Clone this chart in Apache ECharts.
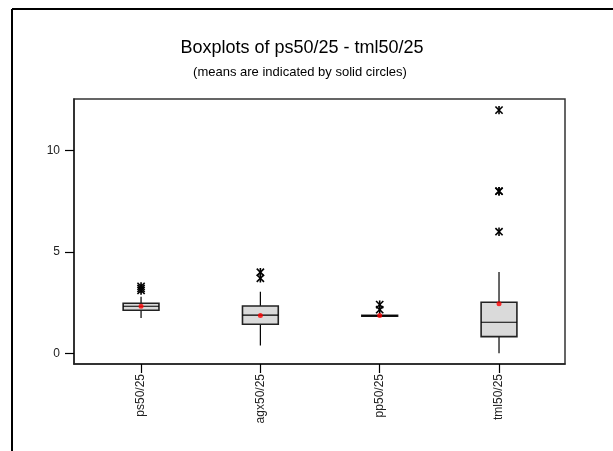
<!DOCTYPE html>
<html><head><meta charset="utf-8">
<script src="https://cdn.jsdelivr.net/npm/echarts@6/dist/echarts.min.js"></script>
<style>html,body{margin:0;padding:0;background:#fff}#c{width:613px;height:451px}</style>
</head><body><div id="c"></div>
<script>
const categories = ['ps50/25', 'agx50/25', 'pp50/25', 'tml50/25'];
const whiskerLow = [1.74, 0.38, 1.85, 0.0];
const q1 = [2.12, 1.43, 1.83, 0.82];
const median = [2.32, 1.88, 1.85, 1.53];
const q3 = [2.47, 2.33, 1.87, 2.52];
const whiskerHigh = [2.79, 3.03, 1.85, 4.01];
const means = [2.32, 1.86, 1.87, 2.45];
const outlierGroups = [[3.1, 3.2, 3.3], [3.7, 4.0], [2.15, 2.4], [6.0, 8.0, 8.0, 12.0]];
const yTicks = [0, 5, 10];

const positions = categories.map((c, i) => i + 1);
const boxData = positions.map((p, i) => [p, whiskerLow[i], q1[i], median[i], q3[i], whiskerHigh[i]]);
const meanData = positions.map((p, i) => [p, means[i]]);
const outlierData = [];
outlierGroups.forEach((g, i) => g.forEach(v => outlierData.push([positions[i], v])));

const BOX_W = 0.30;
const FONT = '"Liberation Sans", Arial, sans-serif';

const chart = echarts.init(document.getElementById('c'), null, {renderer: 'canvas'});
chart.setOption({
  backgroundColor: '#fff',
  animation: false,
  title: [
    {text: 'Boxplots of ps50/25 - tml50/25', left: 297, top: 34, textAlign: 'center',
     textStyle: {fontFamily: FONT, fontSize: 18, fontWeight: 'normal', color: '#000'}},
    {text: '(means are indicated by solid circles)', left: 295, top: 61, textAlign: 'center',
     textStyle: {fontFamily: FONT, fontSize: 13, fontWeight: 'normal', color: '#000'}}
  ],
  graphic: [
    {type: 'line', shape: {x1: 12, y1: 9, x2: 613, y2: 9}, style: {stroke: '#000', lineWidth: 2}},
    {type: 'line', shape: {x1: 12, y1: 9, x2: 12, y2: 451}, style: {stroke: '#000', lineWidth: 2}}
  ],
  grid: {left: 74, top: 99, right: 48, bottom: 87, show: true, borderColor: '#333', borderWidth: 1.5, backgroundColor: '#fff'},
  xAxis: {
    type: 'value', min: 0.438, max: 4.553,
    splitLine: {show: false},
    axisLine: {show: true, onZero: false, lineStyle: {color: '#222', width: 1.5}},
    axisTick: {show: true, customValues: positions, length: 9, lineStyle: {color: '#000', width: 1.2}},
    axisLabel: {customValues: positions, rotate: 90, margin: 10, fontFamily: FONT, fontSize: 12, color: '#222',
      formatter: v => categories[Math.round(v) - 1] || ''}
  },
  yAxis: {
    type: 'value', min: -0.53, max: 12.55,
    splitLine: {show: false},
    axisLine: {show: true, onZero: false, lineStyle: {color: '#222', width: 1.5}},
    axisTick: {show: true, customValues: yTicks, length: 9, lineStyle: {color: '#000', width: 1.2}},
    axisLabel: {customValues: yTicks, margin: 14, fontFamily: FONT, fontSize: 12, color: '#222'}
  },
  series: [
    {
      type: 'custom',
      data: boxData,
      encode: {x: 0, y: [1, 2, 3, 4, 5]},
      renderItem: function (params, api) {
        const x = api.value(0);
        const lo = api.coord([x, api.value(1)]);
        const b1 = api.coord([x, api.value(2)]);
        const md = api.coord([x, api.value(3)]);
        const b3 = api.coord([x, api.value(4)]);
        const hi = api.coord([x, api.value(5)]);
        const w = api.size([BOX_W, 0])[0];
        return {type: 'group', children: [
          {type: 'line', shape: {x1: lo[0], y1: lo[1], x2: b1[0], y2: b1[1]}, style: {stroke: '#000', lineWidth: 1.2}},
          {type: 'line', shape: {x1: b3[0], y1: b3[1], x2: hi[0], y2: hi[1]}, style: {stroke: '#000', lineWidth: 1.2}},
          {type: 'rect', shape: {x: b1[0] - w / 2, y: b3[1], width: w, height: b1[1] - b3[1]},
           style: {fill: '#dadada', stroke: '#222', lineWidth: 1.6}},
          {type: 'line', shape: {x1: md[0] - w / 2, y1: md[1], x2: md[0] + w / 2, y2: md[1]}, style: {stroke: '#000', lineWidth: 1.2}}
        ]};
      }
    },
    {
      type: 'custom',
      data: outlierData,
      encode: {x: 0, y: 1},
      renderItem: function (params, api) {
        const p = api.coord([api.value(0), api.value(1)]);
        const s = {stroke: '#000', lineWidth: 1.6};
        const h = 4.2, d = 3.6;
        return {type: 'group', children: [
          {type: 'line', shape: {x1: p[0], y1: p[1] - h, x2: p[0], y2: p[1] + h}, style: s},
          {type: 'line', shape: {x1: p[0] - d, y1: p[1] - d, x2: p[0] + d, y2: p[1] + d}, style: s},
          {type: 'line', shape: {x1: p[0] - d, y1: p[1] + d, x2: p[0] + d, y2: p[1] - d}, style: s}
        ]};
      }
    },
    {
      type: 'scatter', data: meanData, symbol: 'circle', symbolSize: 5,
      itemStyle: {color: '#ff0000'}
    }
  ]
});
</script></body></html>
